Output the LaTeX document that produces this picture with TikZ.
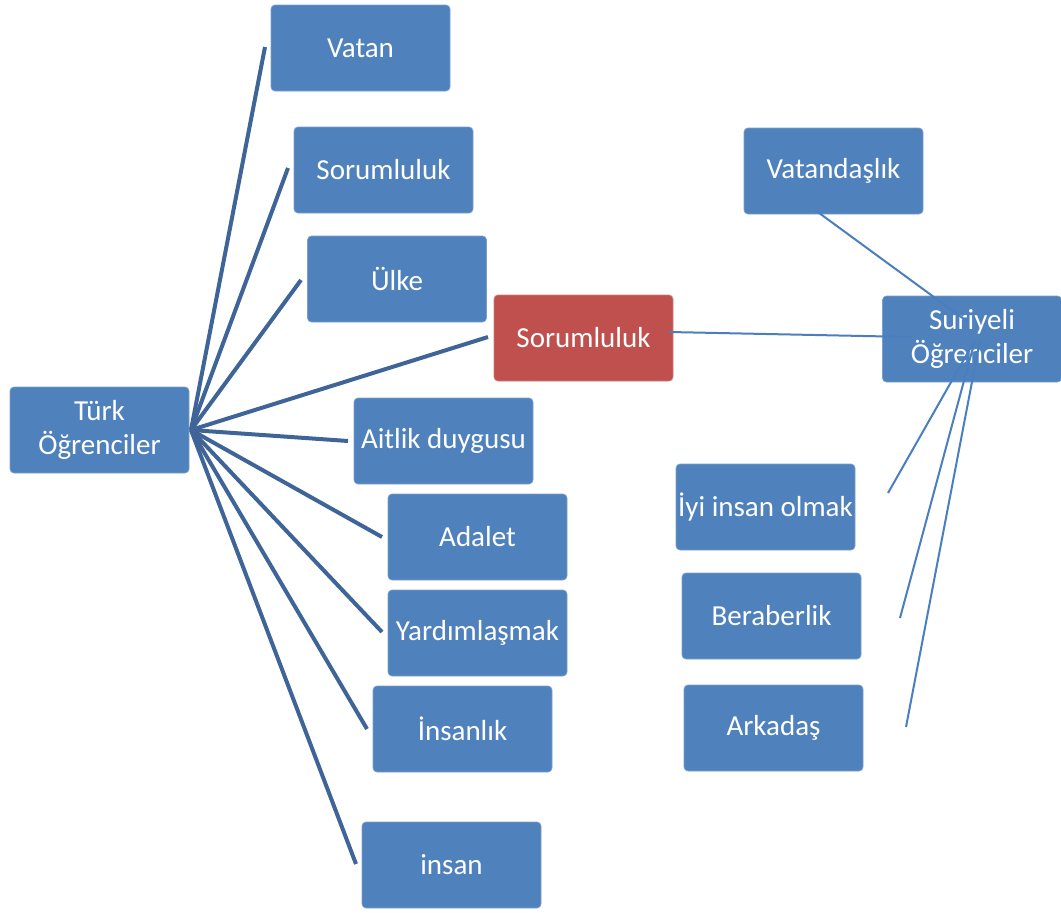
\documentclass[tikz,border=0pt]{standalone}
\usepackage{fontspec}
\setmainfont{Carlito}
\definecolor{boxblue}{RGB}{79,129,189}
\definecolor{boxred}{RGB}{192,80,77}
\definecolor{linedark}{RGB}{62,100,152}
\definecolor{linelight}{RGB}{74,126,190}
\begin{document}
\begin{tikzpicture}[x=1pt,y=-1pt,
  box/.style={rectangle, rounded corners=4pt, fill=boxblue, draw=boxblue!75!white, line width=0.7pt,
    minimum width=179pt, minimum height=86pt, inner sep=0pt, align=center,
    text=white, font=\fontsize{29}{34}\selectfont},
  redbox/.style={box, fill=boxred, draw=boxred!75!white},
  leftline/.style={draw=linedark, line width=4pt},
  rightline/.style={draw=linelight, line width=2pt}]
\useasboundingbox (0,0) rectangle (1061,913);
% left side boxes
\node[box] (turk) at (99.5,430) {Türk\\Öğrenciler};
\node[box] (vatan) at (360.5,48) {Vatan};
\node[box] (sorum) at (383.5,170) {Sorumluluk};
\node[box] (ulke) at (397,279) {Ülke};
\node[redbox] (sorumred) at (583.5,338) {Sorumluluk};
\node[box] (aitlik) at (443.5,441) {Aitlik duygusu};
\node[box] (adalet) at (477.5,537) {Adalet};
\node[box] (yardim) at (477.5,633) {Yardımlaşmak};
\node[box] (insanlik) at (462.5,729) {İnsanlık};
\node[box] (insan) at (451.5,865) {insan};
% right side boxes
\node[box] (vatandas) at (833.5,171) {Vatandaşlık};
\node[box] (suriyeli) at (972,339) {Suriyeli\\Öğrenciler};
\node[box] (iyi) at (765.5,507) {İyi insan olmak};
\node[box] (berab) at (771.5,616) {Beraberlik};
\node[box] (arkadas) at (773.5,728) {Arkadaş};
% free ends
\coordinate (hub) at (191,430);
\coordinate (eVatan) at (265,47);
\coordinate (eSorum) at (288,168);
\coordinate (eUlke) at (301,280);
\coordinate (eRed) at (488,337);
\coordinate (eAit) at (348,441);
\coordinate (eAda) at (382,537);
\coordinate (eYar) at (382,632);
\coordinate (eInl) at (367,729);
\coordinate (eIns) at (356,864);
\coordinate (sStart) at (669,332);
\coordinate (sEnd) at (912,337);
\coordinate (vStart) at (815,210);
\coordinate (vEnd) at (968,322);
\coordinate (hubR) at (975,340);
\coordinate (hubR2) at (980,340);
\coordinate (eIyi) at (888,493);
\coordinate (eBer) at (900,618);
\coordinate (eArk) at (906,727);
% left connectors
\foreach \e in {eVatan,eSorum,eUlke,eRed,eAit,eAda,eYar,eInl,eIns}
  \draw[leftline] (hub) -- (\e);
% right connectors
\draw[rightline] (sStart) -- (sEnd);
\draw[rightline] (vStart) -- (vEnd);
\draw[rightline] (hubR) -- (eIyi);
\draw[rightline] (hubR) -- (eBer);
\draw[rightline] (hubR2) -- (eArk);
\end{tikzpicture}
\end{document}
